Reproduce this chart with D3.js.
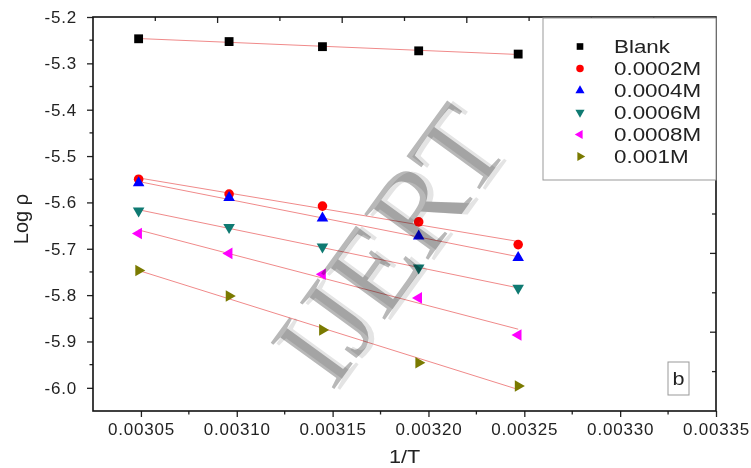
<!DOCTYPE html>
<html>
<head>
<meta charset="utf-8">
<script src="https://cdn.jsdelivr.net/npm/d3@7"></script>
<style>
  html, body { margin: 0; padding: 0; background: #fff; }
  svg { display: block; }
  text { fill: #222; }
</style>
</head>
<body>
<svg id="chart" width="751" height="468"></svg>
<script>
// 1/T values (K^-1) shared by every series
const invT = [0.0030488, 0.0030960, 0.0031447, 0.0031949, 0.0032468];

// Log ρ readings per inhibitor concentration
const seriesNames = ["Blank", "0.0002M", "0.0004M", "0.0006M", "0.0008M", "0.001M"];
const blank   = [-5.247, -5.253, -5.264, -5.273, -5.280];
const c0002   = [-5.550, -5.582, -5.608, -5.642, -5.691];
const c0004   = [-5.558, -5.590, -5.634, -5.673, -5.719];
const c0006   = [-5.618, -5.654, -5.696, -5.741, -5.785];
const c0008   = [-5.667, -5.710, -5.755, -5.806, -5.886];
const c001    = [-5.747, -5.802, -5.875, -5.946, -5.996];
const seriesValues = [blank, c0002, c0004, c0006, c0008, c001];
const seriesColors = ["#000000", "#ff0000", "#0000ff", "#0f7a72", "#ff00ff", "#7a7a00"];

// Axis tick labels
const xTicks = [0.00305, 0.00310, 0.00315, 0.00320, 0.00325, 0.00330, 0.00335];
const yTicks = [-6.0, -5.9, -5.8, -5.7, -5.6, -5.5, -5.4, -5.3, -5.2];

const SANS = "'Liberation Sans', Arial, sans-serif";
const SERIF = "'Liberation Serif', 'Times New Roman', serif";

const svg = d3.select("#chart");
const W = 751, H = 468;
const m = { left: 93, right: 716, top: 17, bottom: 411 };

svg.append("rect").attr("width", W).attr("height", H).attr("fill", "#fff");

const x = d3.scaleLinear().domain([0.003025, 0.00335]).range([m.left, m.right]);
const y = d3.scaleLinear().domain([-6.05, -5.2]).range([m.bottom, m.top]);

// marker shapes: square, circle, up / down / left / right triangles
const shapes = [
  { type: d3.symbolSquare, rot: 0 },
  { type: d3.symbolCircle, rot: 0 },
  { type: d3.symbolTriangle, rot: 0 },
  { type: d3.symbolTriangle, rot: 180 },
  { type: d3.symbolTriangle, rot: -90 },
  { type: d3.symbolTriangle, rot: 90 }
];
const markerSize = [78, 72, 58, 58, 58, 58];
const legendSize = [44, 44, 36, 36, 36, 36];

// ---- axes ----
const fmtY = d => d.toFixed(1);
const fmtX = d => d.toFixed(5);

const gx = svg.append("g").attr("transform", `translate(0,${m.bottom})`)
  .call(d3.axisBottom(x).tickValues(xTicks).tickFormat(fmtX).tickSize(6).tickPadding(6).tickSizeOuter(0));
const gy = svg.append("g").attr("transform", `translate(${m.left},0)`)
  .call(d3.axisLeft(y).tickValues(yTicks).tickFormat(fmtY).tickSize(6).tickPadding(10).tickSizeOuter(0));

[gx, gy].forEach(g => {
  g.select(".domain").remove();
  g.selectAll(".tick line").attr("stroke", "#222").attr("stroke-width", 1.3);
  g.selectAll(".tick text").style("font-size", "17px").style("letter-spacing", "0.8px")
    .style("font-family", SANS).style("fill", "#222");
});

// minor ticks on bottom and left
const xMinor = d3.range(0, 6).map(i => 0.003075 + i * 0.00005);
svg.append("g").selectAll("line").data(xMinor).join("line")
  .attr("x1", d => x(d)).attr("x2", d => x(d))
  .attr("y1", m.bottom).attr("y2", m.bottom + 3.5)
  .attr("stroke", "#222").attr("stroke-width", 1.3);
const yMinor = d3.range(0, 8).map(i => -5.95 + i * 0.1);
svg.append("g").selectAll("line").data(yMinor).join("line")
  .attr("x1", m.left - 3.5).attr("x2", m.left)
  .attr("y1", d => y(d)).attr("y2", d => y(d))
  .attr("stroke", "#222").attr("stroke-width", 1.3);

// top and right axes: ten equal divisions, ticks pointing inward
const topScale = d3.scaleLinear().domain([0, 10]).range([m.left, m.right]);
const rightScale = d3.scaleLinear().domain([0, 10]).range([m.top, m.bottom]);
const divisions = d3.range(1, 10);
svg.append("g").selectAll("line").data(divisions).join("line")
  .attr("x1", d => topScale(d)).attr("x2", d => topScale(d))
  .attr("y1", m.top).attr("y2", d => m.top + (d % 2 === 0 ? 6 : 4))
  .attr("stroke", "#222").attr("stroke-width", 1.3);
svg.append("g").selectAll("line").data(divisions).join("line")
  .attr("x1", m.right).attr("x2", d => m.right - (d % 2 === 0 ? 6 : 4))
  .attr("y1", d => rightScale(d)).attr("y2", d => rightScale(d))
  .attr("stroke", "#222").attr("stroke-width", 1.3);

// ---- linear fits and markers ----
function fit(xs, ys) {
  const mx = d3.mean(xs), my = d3.mean(ys);
  let sxy = 0, sxx = 0;
  xs.forEach((v, i) => { sxy += (v - mx) * (ys[i] - my); sxx += (v - mx) * (v - mx); });
  const b = sxy / sxx, a = my - b * mx;
  return v => a + b * v;
}

const line = d3.line().x(d => x(d[0])).y(d => y(d[1]));
seriesValues.forEach(vals => {
  const f = fit(invT, vals);
  const ends = [invT[0], invT[invT.length - 1]].map(v => [v, f(v)]);
  svg.append("path").attr("d", line(ends))
    .attr("fill", "none").attr("stroke", "#f08a8a").attr("stroke-width", 1);
});

seriesValues.forEach((vals, si) => {
  const sym = d3.symbol().type(shapes[si].type).size(markerSize[si]);
  svg.append("g").selectAll("path").data(vals).join("path")
    .attr("d", sym())
    .attr("transform", (d, i) => `translate(${x(invT[i])},${y(d)}) rotate(${shapes[si].rot})`)
    .attr("fill", seriesColors[si]);
});

// ---- frame ----
svg.append("rect")
  .attr("x", m.left).attr("y", m.top)
  .attr("width", m.right - m.left).attr("height", m.bottom - m.top)
  .attr("fill", "none").attr("stroke", "#111").attr("stroke-width", 1.6);

// ---- legend ----
const lg = svg.append("g");
lg.append("rect").attr("x", 543).attr("y", 18).attr("width", 173).attr("height", 162)
  .attr("fill", "#fff").attr("stroke", "#999").attr("stroke-width", 1);
seriesNames.forEach((name, si) => {
  const cy = 46.5 + si * 22;
  const sym = d3.symbol().type(shapes[si].type).size(legendSize[si]);
  lg.append("path").attr("d", sym())
    .attr("transform", `translate(580,${cy}) rotate(${shapes[si].rot})`)
    .attr("fill", seriesColors[si]);
  lg.append("text").text(name)
    .attr("transform", `translate(614,${cy + 6.2}) scale(1.28,1)`)
    .style("font-family", SANS).style("font-size", "17.5px");
});

// ---- axis titles ----
svg.append("text").text("1/T")
  .attr("transform", `translate(${(m.left + m.right) / 2},463) scale(1.2,1)`)
  .attr("text-anchor", "middle")
  .style("font-family", SANS).style("font-size", "18px");
svg.append("text").text("Log ρ")
  .attr("transform", `translate(28,219) rotate(-90)`)
  .attr("text-anchor", "middle")
  .style("font-family", SANS).style("font-size", "20px");

// panel letter
svg.append("rect").attr("x", 668).attr("y", 362).attr("width", 21).attr("height", 33)
  .attr("fill", "#fff").attr("stroke", "#999").attr("stroke-width", 1);
svg.append("text").text("b")
  .attr("transform", "translate(678.5,385) scale(1.2,1)")
  .attr("text-anchor", "middle")
  .style("font-family", SANS).style("font-size", "18px");

// ---- watermark (multiplied over the plot so marks underneath darken) ----
const wm = svg.append("g").attr("transform", "translate(389,245) rotate(-54)")
  .style("mix-blend-mode", "multiply");
[{ dx: 3, dy: 5, c: "#e4e4e4" }, { dx: 0, dy: 0, c: "#b8b8b8" }].forEach(s => {
  wm.append("text").text("IJERT")
    .attr("x", s.dx).attr("y", s.dy)
    .attr("text-anchor", "middle").attr("dominant-baseline", "central")
    .style("font-family", SERIF).style("font-size", "120px")
    .style("fill", s.c).style("mix-blend-mode", "multiply");
});
</script>
</body>
</html>
